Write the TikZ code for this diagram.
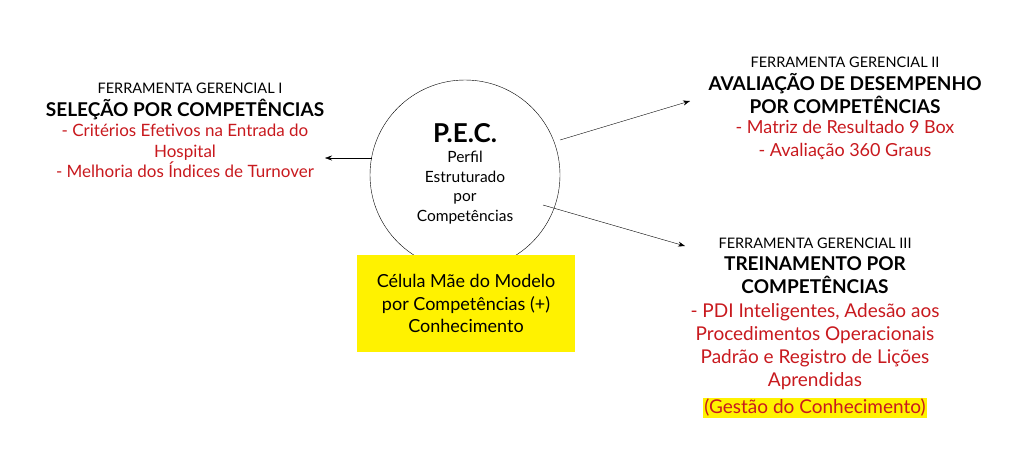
\documentclass[tikz,border=0pt]{standalone}
\usepackage{fontspec}
\setmainfont{Lato}
\usetikzlibrary{arrows.meta}
\definecolor{rd}{RGB}{200,25,30}
\begin{document}
\begin{tikzpicture}[x=1pt,y=-1pt,
 sm/.style={font=\fontsize{14.5}{13}\selectfont,inner sep=0},
 bd/.style={font=\fontsize{19}{23}\selectfont\bfseries,align=center,inner sep=0},
 rt/.style={font=\fontsize{17}{20.5}\selectfont,text=rd,align=center,inner sep=0},
 ar/.style={-{Stealth[length=7pt,width=5pt]},thin}]
\useasboundingbox (0,0) rectangle (1024,459);
\node[circle,draw,minimum size=190pt,inner sep=0] (c) at (465,175) {};
\node[font=\fontsize{26}{24}\selectfont\bfseries,inner sep=0] (p) at (465,133) {P.E.C.};
\node[font=\fontsize{15.5}{19.5}\selectfont,align=center,inner sep=0,anchor=north] (pd) at (465,151) {Perfil\\Estruturado\\por\\Competências};
\node[fill=yellow,minimum width=218pt,minimum height=97pt,align=center,font=\fontsize{18}{22.5}\selectfont] (y) at (466,303.5) {Célula Mãe do Modelo\\por Competências (+)\\Conhecimento};
\node[sm] (l1) at (190,88) {FERRAMENTA GERENCIAL I};
\node[bd] (l2) at (185,110) {SELEÇÃO POR COMPETÊNCIAS};
\node[rt,anchor=north] (l3) at (185,124) {- Critérios Efetivos na Entrada do\\Hospital\\- Melhoria dos Índices de Turnover};
\node[sm] (r1) at (845,62) {FERRAMENTA GERENCIAL II};
\node[bd,anchor=north] (r2) at (845,73) {AVALIAÇÃO DE DESEMPENHO\\POR COMPETÊNCIAS};
\node[rt,anchor=north,font=\fontsize{18}{23}\selectfont] (r3) at (845,120) {- Matriz de Resultado 9 Box\\- Avaliação 360 Graus};
\node[sm] (s1) at (815,243) {FERRAMENTA GERENCIAL III};
\node[bd,anchor=north] (s2) at (815,256) {TREINAMENTO POR\\COMPETÊNCIAS};
\node[rt,anchor=north,font=\fontsize{19}{23}\selectfont] (s3) at (815,303) {- PDI Inteligentes, Adesão aos\\Procedimentos Operacionais\\Padrão e Registro de Lições\\Aprendidas};
\node[rt,fill=yellow,inner sep=1pt,font=\fontsize{19}{20}\selectfont] (s4) at (815,408) {(Gestão do Conhecimento)};
\coordinate (a1) at (372,158); \coordinate (b1) at (325,158);
\coordinate (a2) at (560,140); \coordinate (b2) at (690,101);
\coordinate (a3) at (543,205); \coordinate (b3) at (685,246);
\draw[ar] (a1) -- (b1);
\draw[ar] (a2) -- (b2);
\draw[ar] (a3) -- (b3);
\end{tikzpicture}
\end{document}
